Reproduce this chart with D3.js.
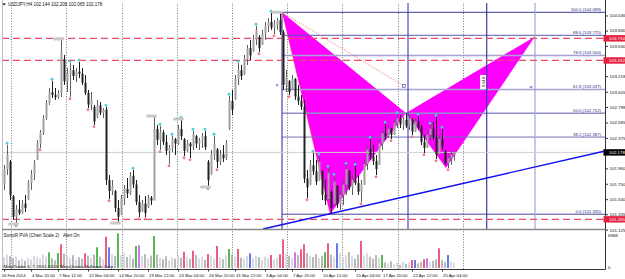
<!DOCTYPE html>
<html>
<head>
<meta charset="utf-8">
<script src="https://cdn.jsdelivr.net/npm/d3@7"></script>
<style>
body { margin: 0; background: #fff; }
svg { display: block; font-family: "Liberation Sans", Arial, sans-serif; }
</style>
</head>
<body>
<div id="chart"></div>
<script>
// H4 bars, [open, high, low, close]
const bars = [
[101.750,102.006,101.665,101.950],[101.950,102.279,101.869,102.150],[102.050,102.074,101.528,101.600],[101.580,101.597,101.256,101.300],
[101.300,101.460,101.201,101.400],[101.400,101.528,101.324,101.350],[101.350,101.528,101.340,101.480],[101.480,101.597,101.365,101.420],
[101.540,101.801,101.528,101.760],[101.760,101.938,101.665,101.880],[101.880,102.074,101.801,102.020],[102.080,102.347,102.074,102.300],
[102.300,102.483,102.238,102.450],[102.450,102.688,102.415,102.640],[102.640,102.893,102.620,102.850],[102.850,103.056,102.825,103.000],
[103.000,103.152,102.920,102.960],[102.960,103.056,102.893,102.930],[102.930,103.029,102.906,102.990],[102.990,103.725,102.934,103.550],
[103.450,103.507,103.098,103.150],[103.150,103.329,103.002,103.250],[103.250,103.398,102.934,103.300],[103.300,103.370,103.166,103.220],
[103.220,103.329,103.138,103.280],[103.280,103.411,103.193,103.250],[103.250,103.329,103.098,103.130],[103.130,103.234,102.961,102.990],
[102.990,103.029,102.784,102.830],[102.830,103.002,102.756,102.900],[102.800,102.825,102.552,102.600],[102.660,102.893,102.647,102.820],
[102.820,102.866,102.688,102.720],[102.720,102.784,102.647,102.760],[102.760,102.797,101.733,101.800],[101.800,101.869,101.542,101.650],
[101.650,101.801,101.597,101.720],[101.650,101.665,101.365,101.420],[101.420,101.528,101.215,101.300],[101.340,101.597,101.324,101.550],
[101.550,101.733,101.460,101.680],[101.680,101.829,101.556,101.620],[101.620,101.910,101.597,101.860],[101.860,101.938,101.692,101.740],
[101.740,101.801,101.460,101.500],[101.500,101.597,101.296,101.360],[101.380,101.528,101.365,101.480],[101.480,101.583,101.296,101.350],
[101.430,101.597,101.419,101.560],[101.560,101.583,101.460,101.520],[101.530,102.674,101.520,102.500],[102.500,102.552,102.279,102.350],
[102.350,102.538,102.211,102.450],[102.450,102.483,102.279,102.320],[102.320,102.415,102.142,102.200],[102.200,102.279,102.020,102.240],
[102.240,102.402,102.183,102.360],[102.360,102.374,102.142,102.300],[102.300,102.552,102.279,102.500],[102.500,102.633,102.347,102.400],
[102.360,102.374,102.129,102.200],[102.200,102.347,102.183,102.300],[102.300,102.320,102.101,102.260],[102.260,102.470,102.211,102.420],
[102.400,102.415,102.238,102.300],[102.300,102.374,102.211,102.340],[102.340,102.442,102.238,102.400],[102.400,102.470,102.211,102.250],
[102.050,102.074,101.706,101.800],[101.880,102.211,101.869,102.150],[102.150,102.402,102.074,102.300],[102.220,102.238,101.965,102.050],
[102.050,102.211,102.006,102.150],[102.150,102.279,102.047,102.100],[102.100,102.347,102.074,102.300],[102.500,102.947,102.483,102.880],
[102.880,103.029,102.688,102.760],[102.900,103.234,102.893,103.180],[103.180,103.398,103.098,103.300],[103.300,103.370,103.166,103.220],
[103.240,103.507,103.234,103.450],[103.450,103.643,103.370,103.600],[103.600,103.711,103.438,103.500],[103.560,103.779,103.548,103.720],
[103.720,103.902,103.643,103.850],[103.750,103.779,103.548,103.600],[103.650,103.848,103.643,103.800],[103.800,103.957,103.711,103.900],
[103.900,104.011,103.820,103.960],[103.960,104.080,103.848,103.880],[103.880,103.984,103.793,103.920],[103.920,104.011,103.848,103.980],
[103.980,104.089,103.779,103.820],[103.820,103.848,103.029,103.100],[103.100,103.302,103.002,103.200],[103.150,103.166,102.961,103.000],
[103.040,103.234,103.029,103.180],[103.180,103.193,102.893,102.940],[102.940,103.098,102.825,102.880],[102.880,102.961,102.756,102.800],
[102.800,102.893,101.760,101.820],[101.820,101.938,101.556,101.700],[101.740,102.074,101.733,102.000],[102.000,102.170,101.869,101.920],
[101.920,102.074,101.733,101.780],[101.800,102.129,101.790,102.050],[101.920,101.938,101.528,101.600],[101.600,101.801,101.460,101.520],
[101.540,101.965,101.528,101.900],[101.640,101.665,101.337,101.420],[101.480,101.856,101.460,101.780],[101.720,101.733,101.419,101.470],
[101.470,101.665,101.392,101.600],[101.600,101.801,101.460,101.740],[101.740,102.006,101.597,101.950],[101.920,101.938,101.665,101.700],
[101.700,101.869,101.597,101.800],[101.800,101.992,101.733,101.760],[101.760,101.869,101.597,101.640],[101.640,101.801,101.501,101.740],
[101.740,102.074,101.733,102.020],[102.020,102.279,101.938,102.220],[102.220,102.361,102.074,102.120],[102.120,102.279,102.006,102.060],
[102.060,102.142,101.869,101.950],[102.010,102.347,102.006,102.300],[102.300,102.483,102.211,102.440],[102.440,102.565,102.347,102.400],
[102.400,102.552,102.374,102.500],[102.500,102.511,102.361,102.420],[102.420,102.620,102.415,102.580],[102.580,102.702,102.511,102.640],
[102.640,102.688,102.511,102.560],[102.560,102.661,102.483,102.620],[102.620,102.715,102.511,102.540],[102.540,102.688,102.483,102.640],
[102.620,102.647,102.415,102.460],[102.460,102.647,102.456,102.600],[102.600,102.674,102.483,102.520],[102.520,102.552,102.279,102.320],
[102.320,102.415,102.170,102.240],[102.240,102.483,102.238,102.420],[102.420,102.552,102.347,102.500],[102.500,102.593,102.347,102.380],
[102.380,102.661,102.088,102.150],[102.150,102.415,102.142,102.360],[102.360,102.497,102.211,102.250],[102.200,102.211,102.006,102.030],
[102.030,102.142,101.965,102.100],[102.100,102.211,102.006,102.150],[102.144,102.208,102.065,102.178]
];

const volumes = [
2100,2600,2300,1900,2200,1500,1800,1400,2000,1700,
2400,2100,1800,2600,2200,3040,1900,1500,2900,4590,
2800,2300,1900,2500,1600,2100,1800,2850,2400,2000,
2600,4010,2200,1700,6060,4010,2700,2300,6700,2500,
2900,2100,2600,1800,4260,4390,2300,2700,1900,2400,
6200,2600,2000,1700,2300,1500,2100,1800,2400,2000,
3160,2200,1800,3350,2500,1900,2200,1600,2710,2300,
1900,4260,2100,1700,2400,3680,2600,2200,3680,2000,
1800,2300,2850,1900,2400,2100,1600,2200,1900,2520,
1700,2000,2650,5560,2800,2300,2000,3040,2500,3620,
4590,2900,2400,2100,2700,1900,2300,3040,4780,2600,
2200,4780,2900,2100,2500,3100,2300,1800,2600,5230,
2400,2900,2200,1800,2500,2000,2520,1100,900,1300,
700,1000,600,1200,800,1000,1550,1550,900,1200,
1680,1880,1100,1400,1700,3810,1500,1200,2520,1300,
1000
];
const volMax = 6968;

// PVA special volume bars: G bull climax, R bear climax, B/V rising volume
const pvaBars = [[15,"G"],[18,"G"],[19,"R"],[27,"R"],[31,"G"],[34,"R"],[35,"B"],[38,"G"],[44,"G"],[45,"V"],
  [50,"G"],[60,"R"],[63,"R"],[68,"R"],[71,"R"],[75,"G"],[78,"R"],[82,"B"],[89,"R"],[92,"R"],[93,"R"],[97,"V"],
  [99,"R"],[100,"R"],[107,"G"],[108,"R"],[111,"B"],[119,"R"],[126,"G"],[136,"R"],[137,"B"],[140,"R"],[141,"V"],
  [145,"R"],[148,"B"]];

const pivotHighs = [1,16,22,25,34,43,52,56,59,63,67,70,75,78,84,89,103,105,108,110,114,117,122,127,131,138,142,144,146];
const pivotLows = [4,12,22,28,30,35,45,47,52,55,60,62,68,71,85,90,95,101,119,124,129,136,140,144,148];
const priceTags = [[19,"h"],[4,"l"],[50,"h"],[59,"h"],[38,"l"],[68,"l"],[92,"h"]];

const timeIdx = [0,9,18,28,38,48,58,68,77,87,96,106,117,126,136,146];
const timeLabels = ["26 Feb 2014","4 Mar 20:00","7 Mar 12:00","12 Mar 04:00","14 Mar 20:00","19 Mar 12:00",
  "24 Mar 04:00","26 Mar 20:00","31 Mar 12:00","3 Apr 04:00","7 Apr 20:00","10 Apr 12:00","15 Apr 04:00",
  "17 Apr 20:00","22 Apr 12:00","25 Apr 04:00"];
const gridIdx = [2.3,20.7,39.3,57.7,76,94.3,112.7,131.3,153];

const priceTicks = [104.046,103.840,103.630,103.218,103.005,102.798,102.585,102.375,101.960,101.750,101.540,101.335,101.125];
const redLevels = [103.734,103.432,101.265];
const lastPrice = 102.178;

const fibLevels = [100.0,88.6,78.6,61.8,50.0,38.2,0.0];
const fibPrices = [104.089,103.775,103.500,103.037,102.712,102.387,101.335];
const fibColors = ["#3c3c98","#5a5ab0","#a4a4d4","#a4a4d4","#9090c8","#6e6eb8","#44449e"];

// harmonic pattern X A B C D as [bar index, price]
const pattern = [[92.67,104.089],[108.67,101.335],[134,102.715],[147.33,101.965],[177,103.760]];
const xbDotted = [[92.67,104.089],[133.3,103.084]];
const trendLine = [[86.33,101.133],[200.33,102.197]];
const vLines = [[92.67,"#4a4aa6",true],[134.67,"#4c4cb0",false],[160.9,"#3a3aa0",false],[177,"#a4a4d8",false]];

const W = 625, H = 279;
const left = 2, right = 605.5, mainTop = 3, mainBottom = 229.5, volTop = 230.5, volBottom = 269.5;

const x = d3.scaleLinear().domain([0, bars.length - 1]).range([4, 454]);
const y = d3.scaleLinear().domain([101.133, 104.216]).range([229, 3]);
const yv = d3.scaleLinear().domain([0, volMax]).range([268, 232]);

const svg = d3.select("#chart").append("svg").attr("width", W).attr("height", H);
svg.append("rect").attr("width", W).attr("height", H).attr("fill", "#fff");

const defs = svg.append("defs");
defs.append("clipPath").attr("id", "mainClip").append("rect")
  .attr("x", left).attr("y", mainTop).attr("width", right - left).attr("height", mainBottom - mainTop);
defs.append("clipPath").attr("id", "volClip").append("rect")
  .attr("x", left).attr("y", volTop).attr("width", right - left).attr("height", volBottom - volTop);

const main = svg.append("g").attr("clip-path", "url(#mainClip)");
const vol = svg.append("g").attr("clip-path", "url(#volClip)");

// dotted time grid
[main, vol].forEach(function(g) {
  g.selectAll(".grid").data(gridIdx).enter().append("line")
    .attr("x1", d => Math.round(x(d)) + 0.5).attr("x2", d => Math.round(x(d)) + 0.5)
    .attr("y1", 0).attr("y2", H)
    .attr("stroke", "#555").attr("stroke-width", 0.8).attr("stroke-dasharray", "1,1.6");
});

// butterfly pattern
const pt = d => [x(d[0]), y(d[1])];
main.append("polygon").attr("points", [pattern[0], pattern[1], pattern[2]].map(pt).join(" ")).attr("fill", "#ff00ff");
main.append("polygon").attr("points", [pattern[2], pattern[3], pattern[4]].map(pt).join(" ")).attr("fill", "#ff00ff");

// fibonacci levels
fibPrices.forEach(function(p, i) {
  main.append("line").attr("x1", x(pattern[0][0])).attr("x2", right)
    .attr("y1", y(p)).attr("y2", y(p))
    .attr("stroke", fibColors[i]).attr("stroke-width", (i === 2 || i === 3 || i === 4) ? 1.4 : 1);
});
vLines.forEach(function(v) {
  main.append("line").attr("x1", x(v[0])).attr("x2", x(v[0]))
    .attr("y1", v[2] ? y(fibPrices[0]) : mainTop).attr("y2", mainBottom)
    .attr("stroke", v[1]).attr("stroke-width", 1.2);
});

// horizontal red levels and bid line
main.selectAll(".red").data(redLevels).enter().append("line")
  .attr("x1", left).attr("x2", right).attr("y1", d => y(d)).attr("y2", d => y(d))
  .attr("stroke", "#ec4a68").attr("stroke-width", 1.3).attr("stroke-dasharray", "7,4");
main.append("line").attr("x1", left).attr("x2", right).attr("y1", y(lastPrice)).attr("y2", y(lastPrice))
  .attr("stroke", "#cfcfcf").attr("stroke-width", 1);

// trend line
main.append("line")
  .attr("x1", x(trendLine[0][0])).attr("y1", y(trendLine[0][1]))
  .attr("x2", x(trendLine[1][0])).attr("y2", y(trendLine[1][1]))
  .attr("stroke", "#1010f0").attr("stroke-width", 1.4);

// dotted legs
main.append("line")
  .attr("x1", x(xbDotted[0][0])).attr("y1", y(xbDotted[0][1]))
  .attr("x2", x(xbDotted[1][0])).attr("y2", y(xbDotted[1][1]))
  .attr("stroke", "#f05a4a").attr("stroke-width", 0.9).attr("stroke-dasharray", "1,1.5");
main.append("line")
  .attr("x1", x(pattern[0][0])).attr("y1", y(pattern[0][1]))
  .attr("x2", x(pattern[1][0])).attr("y2", y(pattern[1][1]))
  .attr("stroke", "#ff9a30").attr("stroke-width", 0.8).attr("stroke-dasharray", "1,1.5");

// candles
const up = d => d[3] >= d[0];
const candle = main.selectAll(".bar").data(bars).enter().append("g");
candle.append("line")
  .attr("x1", (d, i) => Math.round(x(i)) + 0.5).attr("x2", (d, i) => Math.round(x(i)) + 0.5)
  .attr("y1", d => y(d[1])).attr("y2", d => y(d[2]))
  .attr("stroke", d => up(d) ? "#5e5e5e" : "#1c1c1c").attr("stroke-width", 1);
candle.append("rect")
  .attr("x", (d, i) => Math.round(x(i)) - 0.5).attr("width", 2)
  .attr("y", d => y(Math.max(d[0], d[3])))
  .attr("height", d => Math.max(1, Math.abs(y(d[0]) - y(d[3]))))
  .attr("fill", d => up(d) ? "#a2a2a2" : "#222");

// swing markers
main.selectAll(".ph").data(pivotHighs).enter().append("circle")
  .attr("cx", d => x(d)).attr("cy", d => y(bars[d][1]) - 1.8).attr("r", 1.2)
  .attr("fill", "#4fe3ea").attr("stroke", "#2aa8b8").attr("stroke-width", 0.4);
main.selectAll(".pl").data(pivotLows).enter().append("circle")
  .attr("cx", d => x(d)).attr("cy", d => y(bars[d][2]) + 1.8).attr("r", 1.2)
  .attr("fill", "#f58a96").attr("stroke", "#e06070").attr("stroke-width", 0.4);
main.selectAll(".tag").data(priceTags).enter().append("rect")
  .attr("x", d => x(d[0]) - 8).attr("width", 11)
  .attr("y", d => y(d[1] === "h" ? bars[d[0]][1] : bars[d[0]][2]) - 1.5).attr("height", 3)
  .attr("rx", 1.5).attr("fill", "#c9c9c9");

// small pattern markers
const markY = y(xbDotted[1][1]);
main.append("text").attr("x", x(91)).attr("y", markY + 1.5).attr("text-anchor", "middle")
  .attr("font-size", 5).attr("fill", "#3030a0").text("×");
main.append("rect").attr("x", x(xbDotted[1][0]) - 1.3).attr("y", markY - 1.3).attr("width", 2.6).attr("height", 2.6)
  .attr("fill", "#fff").attr("stroke", "#3030a0").attr("stroke-width", 0.6);
main.append("line").attr("x1", x(175.7) - 1.2).attr("x2", x(175.7) + 1.2).attr("y1", markY + 1).attr("y2", markY + 1)
  .attr("stroke", "#3030a0").attr("stroke-width", 1);
const rx = x(159.7), ry = y(103.138);
main.append("rect").attr("x", rx - 3).attr("y", ry - 7).attr("width", 6).attr("height", 14).attr("fill", "#fff");
main.append("text").attr("transform", "translate(" + (rx + 1.5) + "," + ry + ") rotate(-90)")
  .attr("text-anchor", "middle").attr("font-size", 4.2).attr("fill", "#222").text("0.618");

// fib labels
fibPrices.forEach(function(p, i) {
  main.append("text").attr("x", 601).attr("y", y(p) - 1.2).attr("text-anchor", "end")
    .attr("font-size", 4.3).attr("fill", "#2c2c80")
    .text(fibLevels[i].toFixed(1) + " (" + p.toFixed(3) + ")");
});

// volume panel
const pvaColor = {G: "#119a11", R: "#e21c4c", B: "#2442e0", V: "#b83ee6"};
const pvaMap = new Map(pvaBars);
vol.selectAll(".vb").data(volumes).enter().append("rect")
  .attr("x", (d, i) => x(i) - 0.7).attr("width", 1.4)
  .attr("y", d => yv(d)).attr("height", d => yv(0) - yv(d))
  .attr("fill", (d, i) => pvaMap.has(i) ? pvaColor[pvaMap.get(i)] : (up(bars[i]) ? "#c6cad4" : "#9c9c9c"));

// frame lines
svg.append("line").attr("x1", left + 0.5).attr("x2", left + 0.5).attr("y1", 0).attr("y2", volBottom).attr("stroke", "#bdbdbd");
svg.append("line").attr("x1", right).attr("x2", right).attr("y1", 0).attr("y2", volBottom).attr("stroke", "#333");
svg.append("line").attr("x1", left).attr("x2", right).attr("y1", mainBottom).attr("y2", mainBottom).attr("stroke", "#8a8a8a").attr("stroke-width", 1.6);
svg.append("line").attr("x1", left).attr("x2", right).attr("y1", volBottom).attr("y2", volBottom).attr("stroke", "#333");

// price axis
const yAxis = d3.axisRight(y).tickValues(priceTicks).tickSize(2.5).tickFormat(d3.format(".3f"));
const ya = svg.append("g").attr("transform", "translate(" + right + ",0)").call(yAxis);
ya.select(".domain").remove();
ya.selectAll("text").attr("font-size", 4.4).attr("fill", "#111").attr("x", 4);
ya.selectAll("line").attr("stroke", "#333");

function tag(v, bg) {
  const g = svg.append("g");
  g.append("rect").attr("x", right - 2).attr("y", y(v) - 3.2).attr("width", W - right + 2).attr("height", 6.4).attr("fill", bg);
  g.append("text").attr("x", 609).attr("y", y(v)).attr("dy", "0.35em").attr("font-size", 4.4)
    .attr("fill", "#fff").text(v.toFixed(3));
}
redLevels.forEach(v => tag(v, "#e4203e"));
tag(lastPrice, "#000");

// volume axis labels
svg.append("text").attr("x", 608).attr("y", 237).attr("font-size", 4.4).attr("fill", "#111").text(volMax);
svg.append("text").attr("x", 608).attr("y", 269).attr("font-size", 4.4).attr("fill", "#111").text("0");

// time axis
const xAxis = d3.axisBottom(x).tickValues(timeIdx).tickSize(2).tickFormat((d, i) => timeLabels[i]);
const xa = svg.append("g").attr("transform", "translate(0," + volBottom + ")").call(xAxis);
xa.select(".domain").remove();
xa.selectAll("line").attr("stroke", "#333");
xa.selectAll("text").attr("font-size", 4.3).attr("fill", "#111").attr("text-anchor", "start")
  .attr("y", 4).attr("x", (d, i) => i === 0 ? -3 : 0.5);

// captions
const last = bars[bars.length - 1];
svg.append("path").attr("d", "M2.5,3.6 L6,3.6 L4.25,5.6 Z").attr("fill", "#111");
svg.append("text").attr("x", 8).attr("y", 6.4).attr("font-size", 4.5).attr("fill", "#111")
  .text("USDJPY,H4  " + last.map(v => v.toFixed(3)).join(" "));
svg.append("text").attr("x", 3.5).attr("y", 237).attr("font-size", 4.5).attr("fill", "#111")
  .text("SonicR PVA  (Chart Scale 2)");
svg.append("text").attr("x", 63).attr("y", 237).attr("font-size", 4.5).attr("fill", "#111").text("Alert On");
svg.append("text").attr("x", 3.5).attr("y", 268).attr("font-size", 4.4).attr("fill", "#111")
  .text("MetaTrader 4, © 2001-2014, MetaQuotes Software Corp.");
</script>
</body>
</html>
